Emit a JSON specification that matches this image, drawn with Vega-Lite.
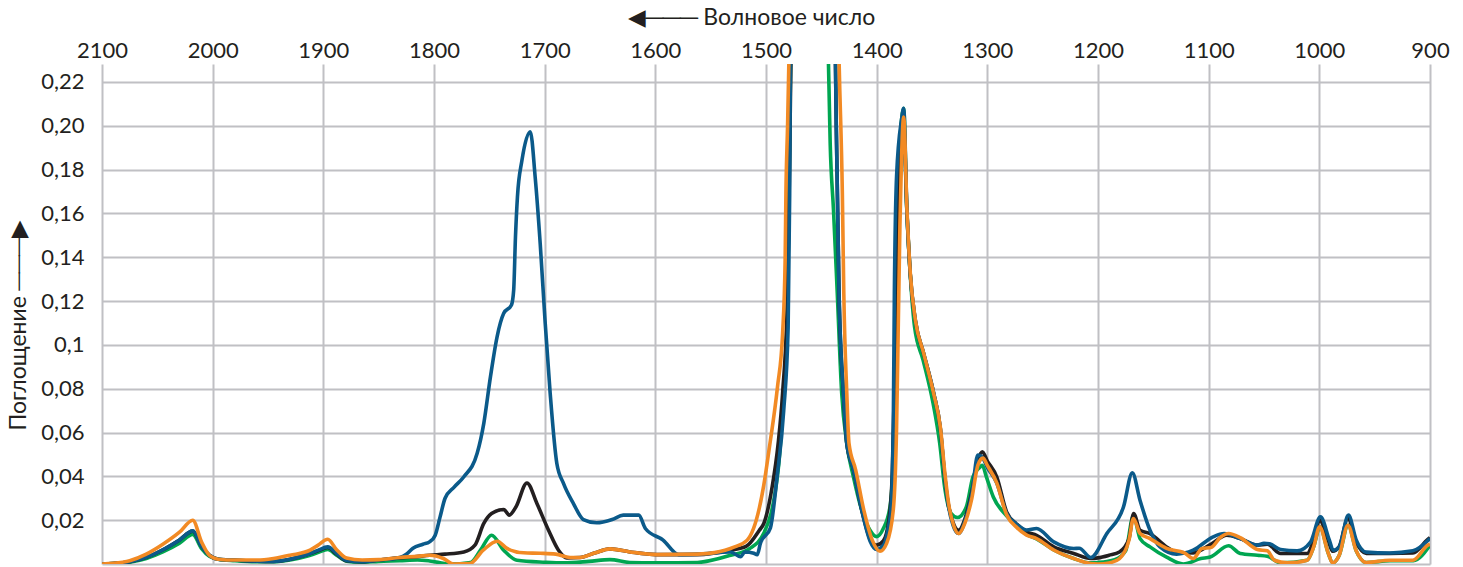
{
"$schema": "https://vega.github.io/schema/vega-lite/v6.json",
"width": 1328, "height": 500,
"autosize": "none",
"padding": {"left": 102, "top": 64, "right": 33, "bottom": 3},
"background": "white",
"config": {"view": {"stroke": null}, "font": "Lato"},
"datasets": {
"blue": [{"w":2100,"v":0},{"w":2090,"v":0.0002},{"w":2075,"v":0.001},{"w":2060,"v":0.003},{"w":2045,"v":0.0065},{"w":2030,"v":0.011},{"w":2018,"v":0.0151},{"w":2010,"v":0.008},{"w":2003,"v":0.004},{"w":1995,"v":0.0022},{"w":1980,"v":0.0018},{"w":1960,"v":0.0013},{"w":1945,"v":0.0012},{"w":1930,"v":0.0022},{"w":1915,"v":0.0042},{"w":1905,"v":0.0062},{"w":1896,"v":0.0078},{"w":1888,"v":0.0048},{"w":1879,"v":0.0016},{"w":1865,"v":0.001},{"w":1850,"v":0.0018},{"w":1831,"v":0.003},{"w":1825,"v":0.0045},{"w":1819,"v":0.0072},{"w":1810,"v":0.009},{"w":1804,"v":0.0101},{"w":1799,"v":0.013},{"w":1794.5,"v":0.0215},{"w":1790,"v":0.03},{"w":1782,"v":0.035},{"w":1773,"v":0.0398},{"w":1761,"v":0.0505},{"w":1755,"v":0.0642},{"w":1749,"v":0.0854},{"w":1743,"v":0.1037},{"w":1737,"v":0.1144},{"w":1730,"v":0.1182},{"w":1728,"v":0.125},{"w":1726.4,"v":0.149},{"w":1724.6,"v":0.1676},{"w":1720.6,"v":0.184},{"w":1713,"v":0.1973},{"w":1708.6,"v":0.1767},{"w":1704,"v":0.146},{"w":1699.5,"v":0.1098},{"w":1695,"v":0.0778},{"w":1689,"v":0.0459},{"w":1683,"v":0.0368},{"w":1674,"v":0.0276},{"w":1665,"v":0.0203},{"w":1653,"v":0.0188},{"w":1639,"v":0.0203},{"w":1629,"v":0.0223},{"w":1615,"v":0.0223},{"w":1609,"v":0.0162},{"w":1593,"v":0.0109},{"w":1579,"v":0.0043},{"w":1562,"v":0.0045},{"w":1532,"v":0.0055},{"w":1523,"v":0.0033},{"w":1519,"v":0.0055},{"w":1511,"v":0.0049},{"w":1508,"v":0.0042},{"w":1505,"v":0.0095},{"w":1496,"v":0.0165},{"w":1490,"v":0.0398},{"w":1484,"v":0.07},{"w":1480,"v":0.108},{"w":1478.6,"v":0.169},{"w":1478,"v":0.225},{"w":1476,"v":0.3},{"w":1465,"v":0.6},{"w":1445,"v":0.45},{"w":1438,"v":0.26},{"w":1436.5,"v":0.2},{"w":1434,"v":0.1236},{"w":1430,"v":0.078},{"w":1427,"v":0.055},{"w":1421,"v":0.043},{"w":1413.5,"v":0.0246},{"w":1406,"v":0.0105},{"w":1400,"v":0.0066},{"w":1394,"v":0.0085},{"w":1390,"v":0.0154},{"w":1387,"v":0.026},{"w":1385,"v":0.0626},{"w":1384,"v":0.1236},{"w":1382,"v":0.177},{"w":1377.6,"v":0.2026},{"w":1375.6,"v":0.208},{"w":1372.6,"v":0.16},{"w":1369.6,"v":0.132},{"w":1365,"v":0.111},{"w":1357.5,"v":0.096},{"w":1348.5,"v":0.078},{"w":1342.5,"v":0.062},{"w":1338.5,"v":0.04},{"w":1335.5,"v":0.0276},{"w":1331,"v":0.0177},{"w":1326,"v":0.0139},{"w":1320,"v":0.02},{"w":1314,"v":0.032},{"w":1308.6,"v":0.0497},{"w":1305,"v":0.049},{"w":1300,"v":0.044},{"w":1291.5,"v":0.037},{"w":1282.6,"v":0.023},{"w":1273,"v":0.018},{"w":1264.5,"v":0.0155},{"w":1255.5,"v":0.0162},{"w":1240,"v":0.0101},{"w":1222,"v":0.0071},{"w":1217,"v":0.0072},{"w":1206.5,"v":0.003},{"w":1192,"v":0.0139},{"w":1177,"v":0.026},{"w":1169,"v":0.0416},{"w":1162,"v":0.029},{"w":1153,"v":0.0154},{"w":1144,"v":0.0078},{"w":1129,"v":0.0045},{"w":1114,"v":0.0063},{"w":1096,"v":0.0124},{"w":1086,"v":0.0139},{"w":1071.5,"v":0.0116},{"w":1056,"v":0.0086},{"w":1050,"v":0.0094},{"w":1045,"v":0.0092},{"w":1035,"v":0.0066},{"w":1020,"v":0.006},{"w":1008,"v":0.01},{"w":999,"v":0.0215},{"w":991,"v":0.011},{"w":987.5,"v":0.0063},{"w":982,"v":0.0078},{"w":973.7,"v":0.0223},{"w":966.7,"v":0.011},{"w":957.6,"v":0.0054},{"w":936.5,"v":0.005},{"w":915.5,"v":0.006},{"w":900,"v":0.0116}],
"black": [{"w":2100,"v":0},{"w":2090,"v":0.0002},{"w":2075,"v":0.001},{"w":2060,"v":0.003},{"w":2045,"v":0.0065},{"w":2030,"v":0.011},{"w":2018,"v":0.015},{"w":2010,"v":0.008},{"w":2003,"v":0.004},{"w":1995,"v":0.0022},{"w":1980,"v":0.0018},{"w":1960,"v":0.0013},{"w":1945,"v":0.0012},{"w":1930,"v":0.0022},{"w":1915,"v":0.0042},{"w":1905,"v":0.006},{"w":1896,"v":0.0075},{"w":1888,"v":0.0045},{"w":1879,"v":0.0015},{"w":1865,"v":0.001},{"w":1850,"v":0.0018},{"w":1831,"v":0.0028},{"w":1819,"v":0.0032},{"w":1804,"v":0.004},{"w":1790,"v":0.0045},{"w":1773,"v":0.0055},{"w":1763,"v":0.0086},{"w":1755,"v":0.0185},{"w":1748,"v":0.023},{"w":1737,"v":0.0249},{"w":1732,"v":0.0223},{"w":1726,"v":0.026},{"w":1716,"v":0.037},{"w":1707,"v":0.0276},{"w":1696.5,"v":0.0154},{"w":1687.5,"v":0.0063},{"w":1680,"v":0.0028},{"w":1668,"v":0.003},{"w":1655,"v":0.005},{"w":1641,"v":0.0069},{"w":1623,"v":0.0055},{"w":1599,"v":0.0043},{"w":1562,"v":0.0043},{"w":1532,"v":0.0063},{"w":1518,"v":0.008},{"w":1506,"v":0.0154},{"w":1502,"v":0.0185},{"w":1494.5,"v":0.035},{"w":1489,"v":0.055},{"w":1485,"v":0.078},{"w":1480.5,"v":0.1236},{"w":1478.5,"v":0.19},{"w":1477,"v":0.25},{"w":1465,"v":0.6},{"w":1445,"v":0.45},{"w":1438,"v":0.26},{"w":1436.5,"v":0.2},{"w":1434,"v":0.1236},{"w":1430,"v":0.078},{"w":1427,"v":0.055},{"w":1421,"v":0.043},{"w":1413.5,"v":0.0246},{"w":1406,"v":0.0115},{"w":1400,"v":0.0086},{"w":1394,"v":0.0105},{"w":1389,"v":0.02},{"w":1386,"v":0.04},{"w":1384,"v":0.08},{"w":1382,"v":0.14},{"w":1379.5,"v":0.185},{"w":1376,"v":0.205},{"w":1372.6,"v":0.16},{"w":1369.6,"v":0.132},{"w":1365,"v":0.111},{"w":1357.5,"v":0.096},{"w":1348.5,"v":0.078},{"w":1342.5,"v":0.062},{"w":1338.5,"v":0.04},{"w":1335.5,"v":0.028},{"w":1331,"v":0.019},{"w":1326,"v":0.0154},{"w":1320,"v":0.021},{"w":1314,"v":0.033},{"w":1308.6,"v":0.047},{"w":1304.6,"v":0.0512},{"w":1300,"v":0.047},{"w":1291.5,"v":0.0398},{"w":1282.6,"v":0.0238},{"w":1273,"v":0.018},{"w":1264.5,"v":0.0147},{"w":1255.5,"v":0.0131},{"w":1240,"v":0.0078},{"w":1222,"v":0.0048},{"w":1206.5,"v":0.0025},{"w":1200,"v":0.0028},{"w":1190,"v":0.004},{"w":1180.6,"v":0.0055},{"w":1172,"v":0.0115},{"w":1167.8,"v":0.023},{"w":1162,"v":0.0154},{"w":1153,"v":0.0139},{"w":1138,"v":0.0078},{"w":1129,"v":0.0055},{"w":1114,"v":0.0051},{"w":1098,"v":0.009},{"w":1083.6,"v":0.0131},{"w":1071.5,"v":0.0116},{"w":1056,"v":0.0086},{"w":1047,"v":0.009},{"w":1035,"v":0.0048},{"w":1011,"v":0.0048},{"w":1005,"v":0.0112},{"w":999.8,"v":0.02},{"w":992,"v":0.011},{"w":988,"v":0.0058},{"w":982,"v":0.008},{"w":974.2,"v":0.0208},{"w":966.7,"v":0.01},{"w":957.6,"v":0.0048},{"w":936.5,"v":0.0048},{"w":915.5,"v":0.005},{"w":902,"v":0.0112},{"w":900,"v":0.012}],
"green": [{"w":2100,"v":0},{"w":2090,"v":0.0002},{"w":2075,"v":0.0008},{"w":2060,"v":0.0025},{"w":2045,"v":0.0055},{"w":2030,"v":0.0095},{"w":2018,"v":0.0135},{"w":2010,"v":0.007},{"w":2003,"v":0.0035},{"w":1995,"v":0.0022},{"w":1980,"v":0.0015},{"w":1960,"v":0.001},{"w":1945,"v":0.001},{"w":1930,"v":0.0018},{"w":1915,"v":0.0035},{"w":1905,"v":0.0052},{"w":1896,"v":0.0066},{"w":1888,"v":0.004},{"w":1879,"v":0.0013},{"w":1865,"v":0.0008},{"w":1850,"v":0.0012},{"w":1831,"v":0.0015},{"w":1815,"v":0.0018},{"w":1804,"v":0.0014},{"w":1786,"v":0},{"w":1767,"v":0.0007},{"w":1758,"v":0.0063},{"w":1748,"v":0.0131},{"w":1737,"v":0.0063},{"w":1725,"v":0.0017},{"w":1700,"v":0.0008},{"w":1683,"v":0.0005},{"w":1660,"v":0.0012},{"w":1641,"v":0.002},{"w":1623,"v":0.0007},{"w":1600,"v":0.0005},{"w":1562,"v":0.0007},{"w":1532,"v":0.004},{"w":1515,"v":0.007},{"w":1502,"v":0.014},{"w":1489,"v":0.043},{"w":1485,"v":0.07},{"w":1480.5,"v":0.12},{"w":1478.5,"v":0.2},{"w":1477,"v":0.26},{"w":1465,"v":0.6},{"w":1450,"v":0.4},{"w":1444,"v":0.24},{"w":1442,"v":0.192},{"w":1439,"v":0.1615},{"w":1435.6,"v":0.1236},{"w":1431.6,"v":0.078},{"w":1427,"v":0.055},{"w":1421,"v":0.0398},{"w":1413.5,"v":0.0246},{"w":1406,"v":0.0154},{"w":1400,"v":0.0125},{"w":1394,"v":0.0162},{"w":1388,"v":0.026},{"w":1385,"v":0.0474},{"w":1383.5,"v":0.093},{"w":1382,"v":0.154},{"w":1379,"v":0.192},{"w":1375.6,"v":0.208},{"w":1373,"v":0.165},{"w":1370,"v":0.135},{"w":1365.7,"v":0.108},{"w":1358,"v":0.093},{"w":1349,"v":0.0733},{"w":1343,"v":0.055},{"w":1338.6,"v":0.0352},{"w":1332.6,"v":0.023},{"w":1327,"v":0.0212},{"w":1319,"v":0.026},{"w":1313,"v":0.0398},{"w":1307,"v":0.044},{"w":1304.6,"v":0.0451},{"w":1301,"v":0.04},{"w":1294.6,"v":0.0306},{"w":1282.6,"v":0.022},{"w":1273,"v":0.017},{"w":1264.5,"v":0.0135},{"w":1255.5,"v":0.0115},{"w":1240,"v":0.0064},{"w":1222,"v":0.0025},{"w":1206.5,"v":0.0005},{"w":1200,"v":0.0007},{"w":1185,"v":0.002},{"w":1175,"v":0.006},{"w":1168,"v":0.022},{"w":1162,"v":0.0116},{"w":1153,"v":0.0078},{"w":1138,"v":0.0031},{"w":1123,"v":0},{"w":1107,"v":0.0025},{"w":1098.6,"v":0.0032},{"w":1082,"v":0.0083},{"w":1071.5,"v":0.0048},{"w":1056,"v":0.004},{"w":1047,"v":0.0035},{"w":1035,"v":0.0005},{"w":1011,"v":0.0017},{"w":1005,"v":0.008},{"w":999.5,"v":0.017},{"w":992,"v":0.005},{"w":988,"v":0.0005},{"w":982,"v":0.004},{"w":974,"v":0.0177},{"w":966.7,"v":0.006},{"w":957.6,"v":0.0007},{"w":936,"v":0.0015},{"w":915,"v":0.0015},{"w":900,"v":0.0086}],
"orange": [{"w":2100,"v":0},{"w":2090,"v":0.0003},{"w":2075,"v":0.0015},{"w":2060,"v":0.0045},{"w":2045,"v":0.009},{"w":2030,"v":0.0145},{"w":2018,"v":0.02},{"w":2010,"v":0.01},{"w":2003,"v":0.004},{"w":1995,"v":0.0022},{"w":1980,"v":0.0018},{"w":1960,"v":0.0018},{"w":1945,"v":0.0025},{"w":1930,"v":0.004},{"w":1912,"v":0.0063},{"w":1905,"v":0.0085},{"w":1896,"v":0.0113},{"w":1888,"v":0.0065},{"w":1879,"v":0.0027},{"w":1865,"v":0.0018},{"w":1850,"v":0.002},{"w":1831,"v":0.003},{"w":1815,"v":0.0035},{"w":1804,"v":0.004},{"w":1791.5,"v":0.0025},{"w":1782.5,"v":0},{"w":1767.5,"v":0.0002},{"w":1755.5,"v":0.0063},{"w":1743,"v":0.0104},{"w":1734,"v":0.0071},{"w":1719,"v":0.0051},{"w":1704,"v":0.0049},{"w":1690,"v":0.0045},{"w":1677,"v":0.003},{"w":1668,"v":0.003},{"w":1655,"v":0.005},{"w":1641,"v":0.0069},{"w":1623,"v":0.0055},{"w":1599,"v":0.0043},{"w":1562,"v":0.0045},{"w":1546.6,"v":0.0052},{"w":1529,"v":0.0077},{"w":1517,"v":0.0109},{"w":1506,"v":0.0256},{"w":1502,"v":0.036},{"w":1497,"v":0.053},{"w":1489.6,"v":0.0809},{"w":1485,"v":0.1052},{"w":1482.7,"v":0.1387},{"w":1482,"v":0.169},{"w":1480.5,"v":0.2},{"w":1478.5,"v":0.25},{"w":1465,"v":0.6},{"w":1445,"v":0.45},{"w":1436,"v":0.27},{"w":1433.5,"v":0.22},{"w":1431,"v":0.169},{"w":1429.7,"v":0.1236},{"w":1427,"v":0.078},{"w":1425,"v":0.055},{"w":1419,"v":0.043},{"w":1411.6,"v":0.0246},{"w":1404,"v":0.0109},{"w":1397,"v":0.0058},{"w":1391,"v":0.0094},{"w":1385,"v":0.0246},{"w":1382,"v":0.0626},{"w":1380.5,"v":0.108},{"w":1379,"v":0.154},{"w":1377.6,"v":0.184},{"w":1375.6,"v":0.204},{"w":1372.6,"v":0.1615},{"w":1369.6,"v":0.1326},{"w":1365,"v":0.1113},{"w":1357.5,"v":0.0961},{"w":1348.5,"v":0.0778},{"w":1342.5,"v":0.0626},{"w":1338,"v":0.0398},{"w":1335,"v":0.0276},{"w":1330.5,"v":0.0177},{"w":1326,"v":0.0139},{"w":1320,"v":0.019},{"w":1314,"v":0.03},{"w":1308.6,"v":0.045},{"w":1304,"v":0.0483},{"w":1300,"v":0.045},{"w":1291.5,"v":0.037},{"w":1282.6,"v":0.0225},{"w":1273,"v":0.0165},{"w":1264.5,"v":0.0132},{"w":1255.5,"v":0.0116},{"w":1240,"v":0.0064},{"w":1222,"v":0.0025},{"w":1206.5,"v":0.0002},{"w":1200,"v":0},{"w":1190,"v":0.0005},{"w":1180.6,"v":0.0025},{"w":1172,"v":0.0109},{"w":1168,"v":0.0208},{"w":1162,"v":0.0139},{"w":1153,"v":0.0116},{"w":1138,"v":0.0071},{"w":1122,"v":0.0051},{"w":1114,"v":0.0025},{"w":1106,"v":0.0071},{"w":1098,"v":0.0075},{"w":1089,"v":0.0123},{"w":1082,"v":0.0139},{"w":1071.5,"v":0.012},{"w":1056,"v":0.0066},{"w":1047,"v":0.006},{"w":1040.6,"v":0.0017},{"w":1029,"v":0.0005},{"w":1011,"v":0.0017},{"w":1005,"v":0.008},{"w":999.8,"v":0.017},{"w":992,"v":0.005},{"w":988,"v":0.0005},{"w":982,"v":0.004},{"w":974.2,"v":0.0177},{"w":966.7,"v":0.006},{"w":957.6,"v":0.0007},{"w":936.5,"v":0.0017},{"w":915.5,"v":0.0017},{"w":901.9,"v":0.0086},{"w":900,"v":0.009}]
},
"encoding": {
  "x": {"field": "w", "type": "quantitative",
    "scale": {"domain": [900, 2100], "reverse": true, "nice": false, "zero": false},
    "axis": {"orient": "top", "values": [2100,2000,1900,1800,1700,1600,1500,1400,1300,1200,1100,1000,900],
      "format": "d",
      "grid": true, "gridColor": "#c0c0c4", "gridWidth": 2, "ticks": false, "domain": false,
      "labelFlush": false, "labelFontSize": 22, "labelColor": "#231f20", "labelPadding": 2, "labelFont": "Lato",
      "title": "◀─── Волновое число", "titleFont": "Lato", "titleFontSize": 23, "titleFontWeight": "normal", "titleColor": "#231f20",
      "titleX": 649, "titleY": -47, "titleAlign": "center", "titleBaseline": "middle"}},
  "y": {"field": "v", "type": "quantitative",
    "scale": {"domain": [0, 0.2282], "nice": false, "zero": true},
    "axis": {"orient": "left", "values": [0,0.02,0.04,0.06,0.08,0.1,0.12,0.14,0.16,0.18,0.2,0.22],
      "grid": true, "gridColor": "#c0c0c4", "gridWidth": 2, "ticks": false, "domain": false,
      "labelExpr": "datum.value == 0 ? '' : (abs(datum.value - 0.1) < 0.0001 ? '0,1' : replace(format(datum.value, '.2f'), '.', ','))",
      "labelFontSize": 22, "labelColor": "#231f20", "labelPadding": 18, "labelFont": "Lato",
      "title": "Поглощение ───▶", "titleFont": "Lato", "titleFontSize": 23, "titleFontWeight": "normal", "titleColor": "#231f20",
      "titleAngle": 270, "titleX": -84, "titleY": 261, "titleAlign": "center", "titleBaseline": "middle"}}
},
"layer": [
  {"data": {"name": "green"}, "mark": {"type": "line", "color": "#00a651", "strokeWidth": 3.6, "interpolate": "monotone", "clip": true, "strokeJoin": "round"}},
  {"data": {"name": "black"}, "mark": {"type": "line", "color": "#231f20", "strokeWidth": 3.6, "interpolate": "monotone", "clip": true, "strokeJoin": "round"}},
  {"data": {"name": "blue"}, "mark": {"type": "line", "color": "#0b5a8a", "strokeWidth": 3.6, "interpolate": "monotone", "clip": true, "strokeJoin": "round"}},
  {"data": {"name": "orange"}, "mark": {"type": "line", "color": "#f28a24", "strokeWidth": 3.6, "interpolate": "monotone", "clip": true, "strokeJoin": "round"}}
]
}
